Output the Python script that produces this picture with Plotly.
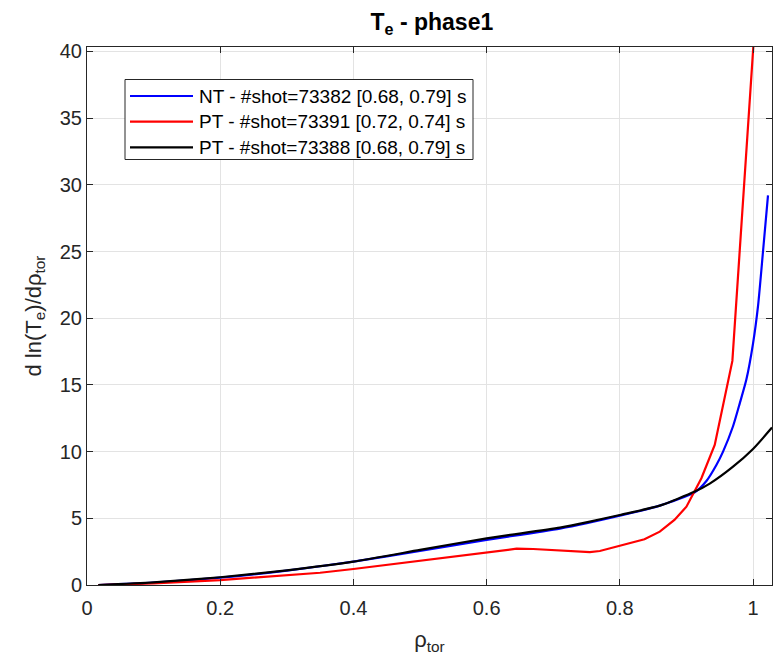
import plotly.graph_objects as go

# rho_tor grid points and d ln(Te)/d rho_tor for each discharge
rho_nt_73382 = [0.017, 0.1, 0.2, 0.3, 0.4, 0.5, 0.6, 0.71, 0.8, 0.86, 0.9125,
                0.93, 0.945, 0.955, 0.97, 0.98, 0.99, 1.0, 1.0075, 1.015, 1.0225]
grad_nt_73382 = [0.0, 0.18, 0.55, 1.08, 1.75, 2.55, 3.38, 4.23, 5.2, 5.95, 6.95,
                 7.8, 9.0, 10.0, 11.9, 13.6, 15.4, 18.1, 20.9, 25.0, 29.2]

rho_pt_73391 = [0.017, 0.1, 0.2, 0.3, 0.35, 0.4, 0.5, 0.6, 0.645, 0.67, 0.715,
                0.755, 0.77, 0.8, 0.837, 0.86, 0.882, 0.9, 0.9125, 0.9225,
                0.9425, 0.969, 1.002]
grad_pt_73391 = [0.0, 0.12, 0.37, 0.7, 0.92, 1.2, 1.82, 2.45, 2.72, 2.7, 2.55,
                 2.47, 2.55, 2.95, 3.43, 4.0, 4.88, 5.87, 7.0, 8.0,
                 10.5, 16.8, 41.5]

rho_pt_73388 = [0.017, 0.1, 0.2, 0.3, 0.4, 0.5, 0.6, 0.71, 0.755, 0.8, 0.86,
                0.9125, 0.935, 0.97, 1.0, 1.0285]
grad_pt_73388 = [0.0, 0.2, 0.58, 1.1, 1.75, 2.63, 3.5, 4.3, 4.75, 5.25, 5.95,
                 7.0, 7.6, 8.87, 10.2, 11.8]

labels = ["NT - #shot=73382 [0.68, 0.79] s",
          "PT - #shot=73391 [0.72, 0.74] s",
          "PT - #shot=73388 [0.68, 0.79] s"]
colors = ["#0000ff", "#ff0000", "#000000"]
line_shapes = ["spline", "linear", "spline"]

x_ticks = [0, 0.2, 0.4, 0.6, 0.8, 1.0]
x_ticktext = ["0", "0.2", "0.4", "0.6", "0.8", "1"]
y_ticks = [0, 5, 10, 15, 20, 25, 30, 35, 40]

FONT = "Liberation Sans, Arial, Helvetica, sans-serif"
AXC = "#262626"
W, H = 774, 663
ML, MR, MT, MB = 87, 2, 47, 78
PW, PH = W - ML - MR, H - MT - MB


def px(x):
    """pixel column -> paper x"""
    return (x - ML) / PW


def py(y):
    """pixel row -> paper y"""
    return (H - MB - y) / PH


fig = go.Figure()
for xs, ys, name, c, shp in zip([rho_nt_73382, rho_pt_73391, rho_pt_73388],
                                [grad_nt_73382, grad_pt_73391, grad_pt_73388],
                                labels, colors, line_shapes):
    fig.add_trace(go.Scatter(x=xs, y=ys, mode="lines", name=name, showlegend=False,
                             line=dict(color=c, width=2.2, shape=shp, smoothing=0.6)))

axis_common = dict(
    showline=True, linecolor=AXC, linewidth=1, mirror="ticks",
    ticks="inside", ticklen=6, tickcolor=AXC, tickwidth=1,
    showgrid=True, gridcolor="#e3e3e3", gridwidth=1,
    zeroline=False, tickfont=dict(family=FONT, size=20, color=AXC),
)

# boxed legend in the upper-left corner of the axes
shapes = [dict(type="rect", xref="paper", yref="paper",
               x0=px(125), x1=px(473), y0=py(159.5), y1=py(79.5),
               line=dict(color=AXC, width=1), fillcolor="white", layer="above")]
annotations = []
for i, (name, c) in enumerate(zip(labels, colors)):
    row = 96 + i * 25.7
    shapes.append(dict(type="line", xref="paper", yref="paper",
                       x0=px(130), x1=px(193), y0=py(row), y1=py(row),
                       line=dict(color=c, width=2.2), layer="above"))
    annotations.append(dict(text=name, xref="paper", yref="paper",
                            x=px(197), y=py(row), xanchor="left", yanchor="middle",
                            showarrow=False,
                            font=dict(family=FONT, size=19, color="#000000")))

fig.update_layout(
    width=W, height=H,
    margin=dict(l=ML, r=MR, t=MT, b=MB),
    paper_bgcolor="white", plot_bgcolor="white",
    font=dict(family=FONT, color=AXC),
    xaxis=dict(range=[0, 1.0285], tickvals=x_ticks, ticktext=x_ticktext,
               ticklabelstandoff=5,
               title=dict(text="ρ<sub>tor</sub>", font=dict(size=22, color=AXC), standoff=13),
               **axis_common),
    yaxis=dict(range=[0, 40.33], tickvals=y_ticks,
               title=dict(text="d ln(T<sub>e</sub>)/dρ<sub>tor</sub>", font=dict(size=22, color=AXC),
                          standoff=12),
               **axis_common),
    title=dict(text="<b>T<sub>e</sub> - phase1</b>", x=0.558, xanchor="center",
               y=0.967, yanchor="middle", font=dict(size=23, color="#000000", family=FONT)),
    shapes=shapes,
    annotations=annotations,
    showlegend=False,
)

fig.write_html("out.html")
